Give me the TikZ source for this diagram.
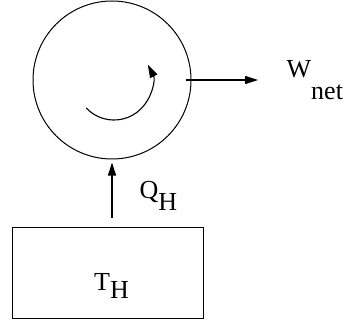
\documentclass[tikz,border=0pt]{standalone}
\usepackage{fontspec}
\setmainfont{Liberation Serif}
\usetikzlibrary{arrows.meta, positioning, calc}

\begin{document}
\begin{tikzpicture}[x=1pt, y=1pt,
    % Node styles
    engine/.style={
        circle, draw=black, line width=1pt,
        minimum size=158pt, inner sep=0pt
    },
    reservoir/.style={
        rectangle, draw=black, line width=1pt,
        minimum width=191pt, minimum height=91pt, inner sep=0pt
    },
    lbl/.style={
        font=\rmfamily\fontsize{26}{31}\selectfont, inner sep=0pt, anchor=base west
    },
    arrow/.style={
        -{Triangle[length=13pt, width=8pt]}, line width=1.1pt, black
    }
]
\useasboundingbox (0,0) rectangle (347,-320);

% --- Nodes ---
\node[engine] (engine) at (112,-80) {};
\node[reservoir] (hot) at (107.5,-272.5) {};
\node[lbl] (th) at (94,-290) {T\raisebox{-8.5pt}{H}};
\node[lbl] (qh) at (139.5,-198) {Q\raisebox{-12pt}{H}};
\node[lbl] (wnet) at (286.5,-78) {W\raisebox{-22pt}{net}};

% --- Arrows ---
\coordinate (qtail) at (112,-218);
\coordinate (whead) at (258,-80);
\draw[arrow] (qtail) -- ([yshift=-3pt]engine.south);
\draw[arrow] ([xshift=-6pt]engine.east) -- (whead);

% cycle direction inside the engine
\draw[arrow] ([shift={(2,-2)}]engine.center) ++(223:38)
    arc[start angle=223, end angle=387, radius=38];

\end{tikzpicture}
\end{document}
